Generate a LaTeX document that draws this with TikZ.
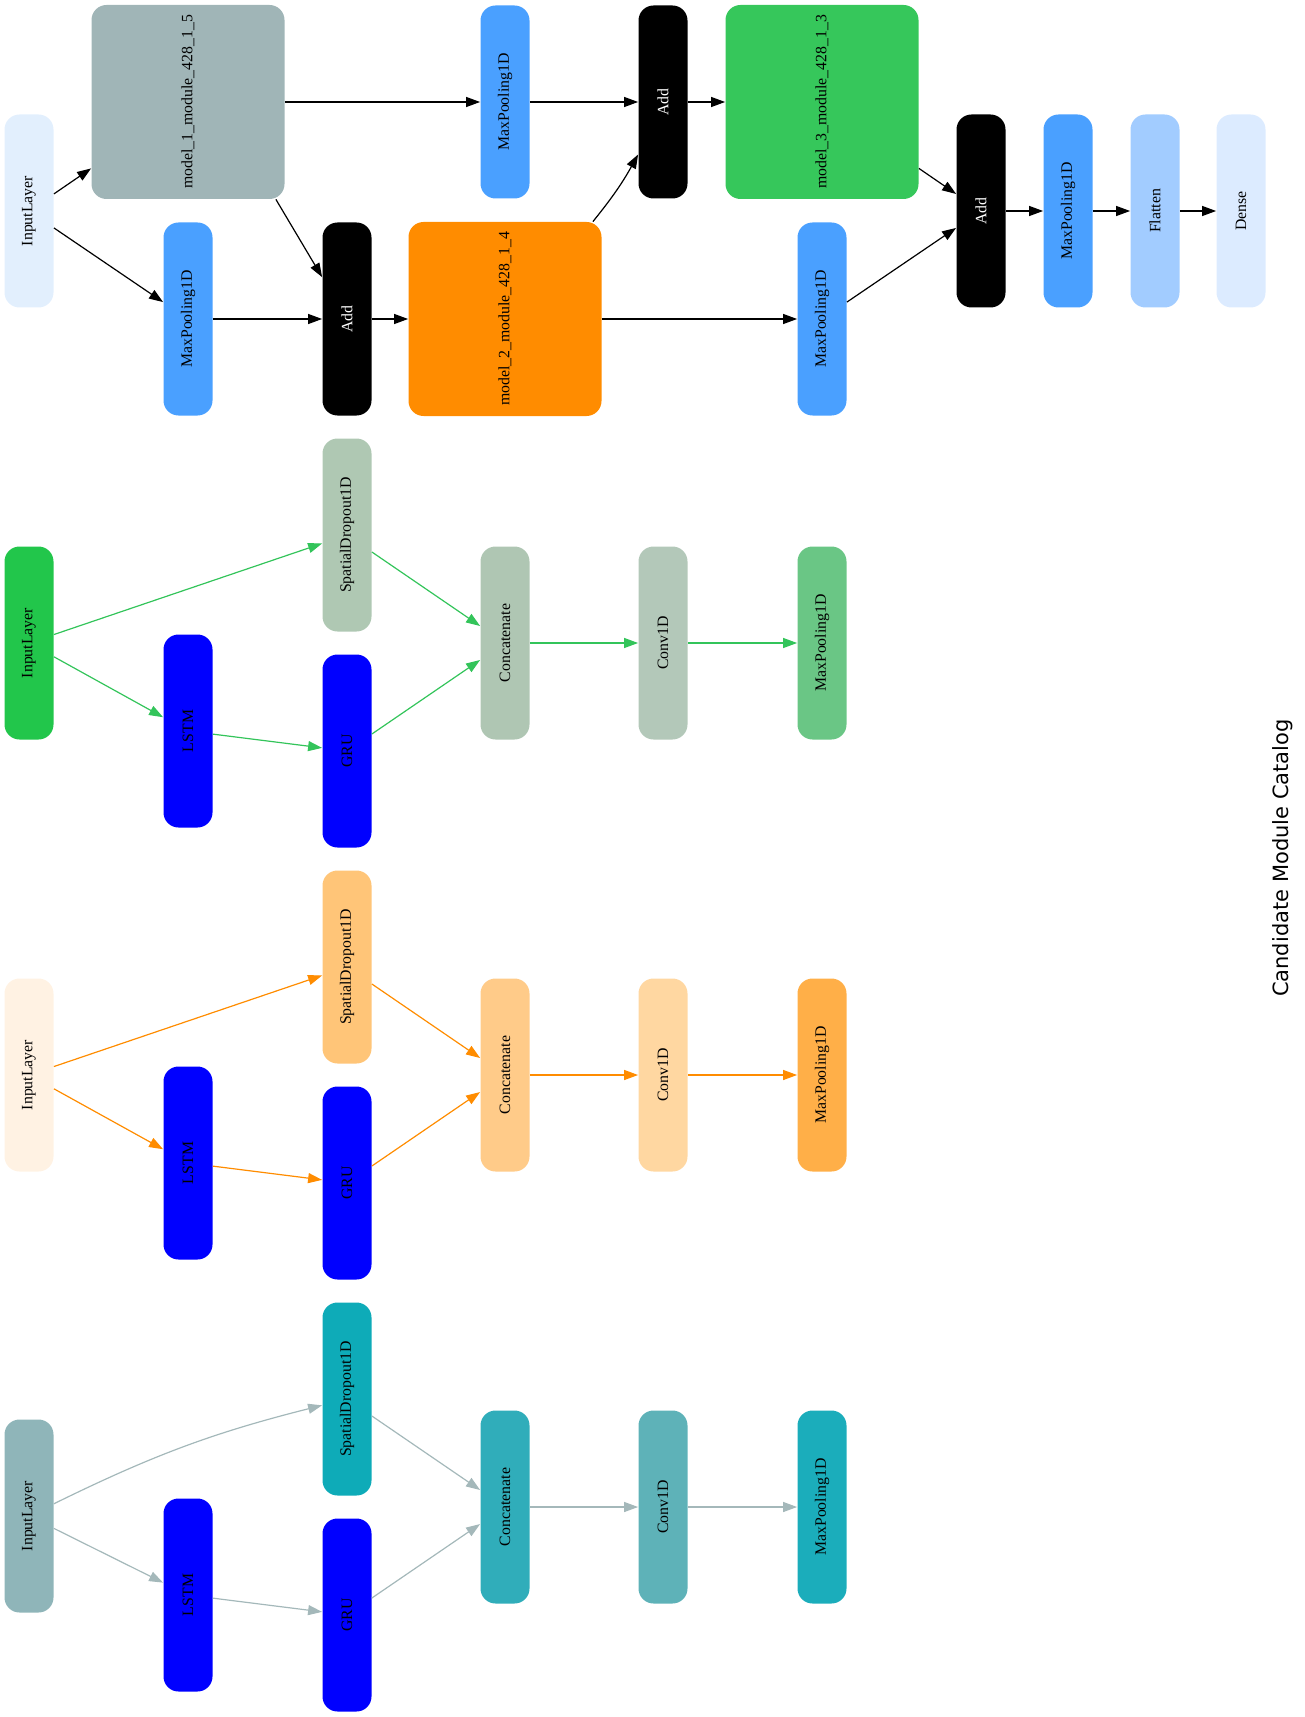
\documentclass[tikz,border=0pt]{standalone}
\usepackage{fontspec}
\setmainfont{Liberation Serif}
\newfontfamily\titlefont{DejaVu Sans}
\usetikzlibrary{arrows.meta}

% colours of the full model
\definecolor{inTop}{HTML}{E2EFFD}
\definecolor{modOne}{HTML}{A0B5B7}
\definecolor{modTwo}{HTML}{FF8C00}
\definecolor{modThree}{HTML}{36C75B}
\definecolor{poolTop}{HTML}{4AA0FF}
\definecolor{flatTop}{HTML}{A2CCFF}
\definecolor{denseTop}{HTML}{DCEBFF}
\definecolor{rnn}{HTML}{0000FF}
% colours of the three modules
\definecolor{inputA}{HTML}{22C64B}
\definecolor{dropA}{HTML}{AFC8B3}
\definecolor{concatA}{HTML}{AFC6B3}
\definecolor{convA}{HTML}{B3C8B9}
\definecolor{poolA}{HTML}{6AC685}
\definecolor{edgeA}{HTML}{33C45A}
\definecolor{inputB}{HTML}{FFF2E3}
\definecolor{dropB}{HTML}{FFC578}
\definecolor{concatB}{HTML}{FFCB89}
\definecolor{convB}{HTML}{FFD7A1}
\definecolor{poolB}{HTML}{FFAF48}
\definecolor{edgeB}{HTML}{FF8C00}
\definecolor{inputC}{HTML}{8FB5B9}
\definecolor{dropC}{HTML}{0EABB8}
\definecolor{concatC}{HTML}{30ADBA}
\definecolor{convC}{HTML}{5EB2B8}
\definecolor{poolC}{HTML}{1BADBB}
\definecolor{edgeC}{HTML}{A4B8BA}

\tikzset{
  layer/.style={rotate=90, rounded corners=7.5pt, inner sep=0pt,
    minimum width=96.5pt, minimum height=24.5pt,
    font=\fontsize{7.9}{9}\selectfont, text=black},
  block/.style={layer, minimum width=97pt, minimum height=96.5pt},
  link/.style={-{Triangle[length=7pt,width=5pt]}, line width=0.6pt}
}

\begin{document}
\begin{tikzpicture}[x=0.5pt, y=-0.5pt]
    \useasboundingbox (0,0) rectangle (1305,1717);

    % Full model
    \node[layer, fill=inTop] (in0) at (29,211) {InputLayer};
    \node[block, fill=modOne] (mod1) at (188,102) {model\_1\_module\_428\_1\_5};
    \node[layer, fill=poolTop] (pool0b) at (188,319) {MaxPooling1D};
    \node[layer, fill=black, text=white] (add0b) at (347,319) {Add};
    \node[block, fill=modTwo] (mod2) at (505,319) {model\_2\_module\_428\_1\_4};
    \node[layer, fill=poolTop] (pool0a) at (505,102) {MaxPooling1D};
    \node[layer, fill=black, text=white] (add0a) at (663,102) {Add};
    \node[block, fill=modThree] (mod3) at (822,102) {model\_3\_module\_428\_1\_3};
    \node[layer, fill=poolTop] (pool0c) at (822,319) {MaxPooling1D};
    \node[layer, fill=black, text=white] (add0c) at (981,211) {Add};
    \node[layer, fill=poolTop] (pool0d) at (1068,211) {MaxPooling1D};
    \node[layer, fill=flatTop] (flat0) at (1155,211) {Flatten};
    \node[layer, fill=denseTop] (dense0) at (1241,211) {Dense};

    \draw[link] (in0) -- (mod1);
    \draw[link] (in0) -- (pool0b);
    \draw[link] (mod1) -- (pool0a);
    \draw[link] ([xshift=-4.5pt]mod1.south west) -- (add0b);
    \draw[link] (pool0b) -- (add0b);
    \draw[link] (add0b) -- (mod2);
    \draw[link] (pool0a) -- (add0a);
    \draw[link] ([xshift=-4.5pt]mod2.south east) to[bend right=5] (add0a);
    \draw[link] (add0a) -- (mod3);
    \draw[link] (mod2) -- (pool0c);
    \draw[link] (mod3) -- (add0c);
    \draw[link] (pool0c) -- (add0c);
    \draw[link] (add0c) -- (pool0d);
    \draw[link] (pool0d) -- (flat0);
    \draw[link] (flat0) -- (dense0);

    % Candidate modules
    \foreach \s/\y/\dy/\bnd in {A/643/0/0, B/1075/0/0, C/1507/9/6} {
        \node[layer, fill=input\s] (in\s) at (29,\y+\dy) {InputLayer};
        \node[layer, fill=drop\s] (sd\s) at (347,\y-108) {SpatialDropout1D};
        \node[layer, fill=rnn] (lstm\s) at (188,\y+88) {LSTM};
        \node[layer, fill=rnn] (gru\s) at (347,\y+108) {GRU};
        \node[layer, fill=concat\s] (cat\s) at (505,\y) {Concatenate};
        \node[layer, fill=conv\s] (cv\s) at (663,\y) {Conv1D};
        \node[layer, fill=pool\s] (mp\s) at (822,\y) {MaxPooling1D};
        \draw[link, color=edge\s] (in\s) to[bend left=\bnd] (sd\s);
        \draw[link, color=edge\s] (in\s) -- (lstm\s);
        \draw[link, color=edge\s] (lstm\s) -- (gru\s);
        \draw[link, color=edge\s] (sd\s) -- (cat\s);
        \draw[link, color=edge\s] (gru\s) -- (cat\s);
        \draw[link, color=edge\s] (cat\s) -- (cv\s);
        \draw[link, color=edge\s] (cv\s) -- (mp\s);
    }

    \node[rotate=90, font=\titlefont\fontsize{10.5}{12}\selectfont] (title) at (1283,858) {Candidate Module Catalog};
\end{tikzpicture}
\end{document}
